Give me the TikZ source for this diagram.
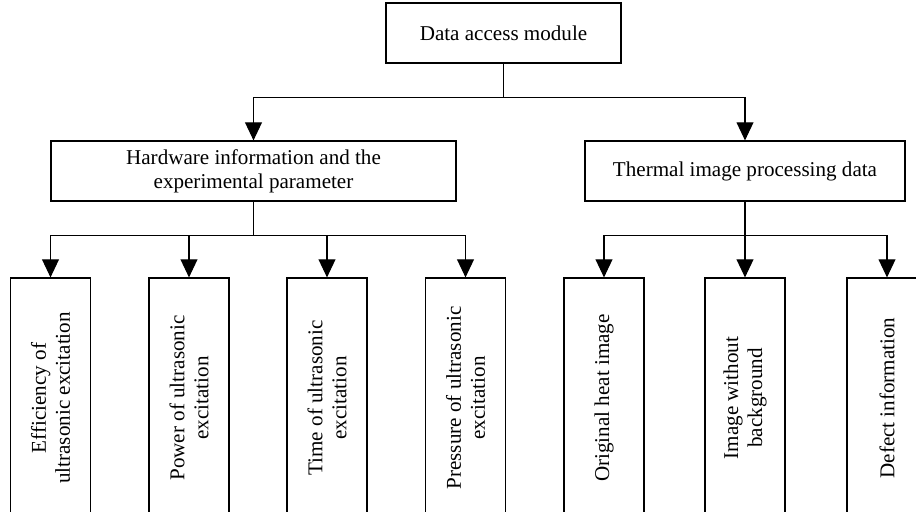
\documentclass[tikz,border=0pt]{standalone}
\usepackage{fontspec}
\setmainfont{Liberation Serif}
\usetikzlibrary{arrows.meta, positioning}

\begin{document}
\begin{tikzpicture}[font=\fontsize{15}{17}\selectfont, line width=0.8pt, >={Triangle[length=0.45cm, width=0.42cm]},
    box/.style={draw, rectangle, minimum height=1.5cm, text centered, align=center, inner sep=0pt},
    leaf/.style={draw, rectangle, rotate=90, minimum width=6cm, minimum height=2cm, align=center, inner sep=0pt}]
        \useasboundingbox (0,0) rectangle (22.9,-12.8);
        \clip (0,0) rectangle (22.9,-12.8);

        \node [box, minimum width=5.875cm] (access) at (12.5875,-0.825) {Data access module};
        \node [box, minimum width=10.125cm] (hardware) at (6.3375,-4.275) {Hardware information and the\\ experimental parameter};
        \node [box, minimum width=8cm] (thermal) at (18.625,-4.275) {Thermal image processing data};

        % bottom row, cut off by the page edge
        \foreach \name/\x/\txt in {eff/1.2625/{Efficiency of\\ ultrasonic excitation},
                                   power/4.725/{Power of ultrasonic\\ excitation},
                                   time/8.175/{Time of ultrasonic\\ excitation},
                                   pressure/11.6375/{Pressure of ultrasonic\\ excitation},
                                   original/15.1/{Original heat image},
                                   nobg/18.625/{Image without\\ background},
                                   defect/22.175/{Defect information}}
            \node [leaf] (\name) at (\x,-9.95) {\txt};

        \coordinate [below=0.85cm of access] (split);
        \draw (access) -- (split);
        \draw [->] (split) -| (hardware);
        \draw [->] (split) -| (thermal);

        \coordinate [below=0.85cm of hardware] (hwsplit);
        \draw (hardware) -- (hwsplit);
        \foreach \name in {eff, power, time, pressure}
            \draw [->] (hwsplit) -| (\name);

        \coordinate [below=0.85cm of thermal] (thsplit);
        \draw (thermal) -- (thsplit);
        \foreach \name in {original, nobg, defect}
            \draw [->] (thsplit) -| (\name);
    \end{tikzpicture}
\end{document}
